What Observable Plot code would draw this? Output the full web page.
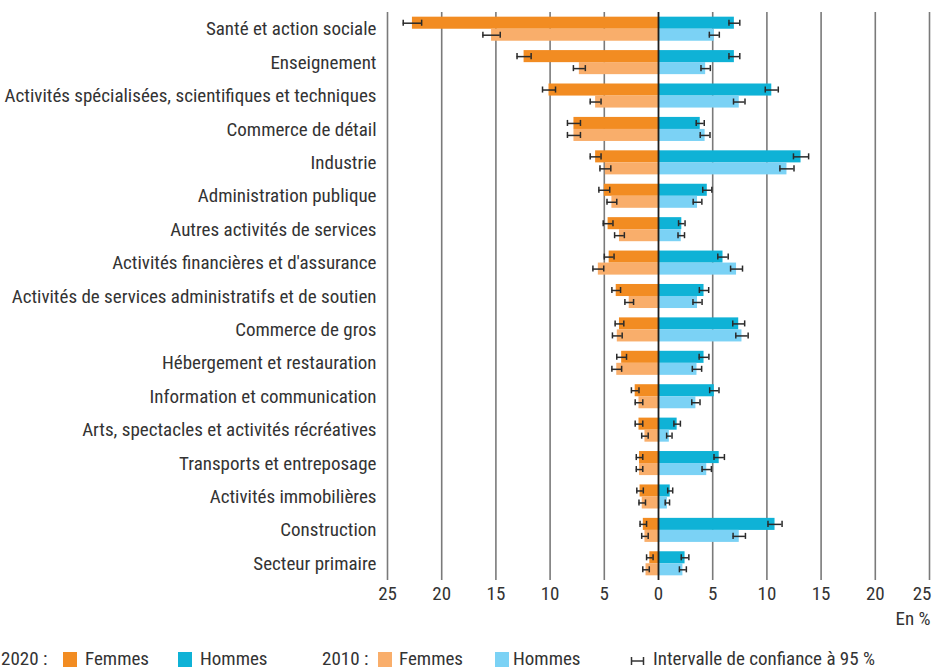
<!DOCTYPE html>
<html><head><meta charset="utf-8">
<script src="https://cdn.jsdelivr.net/npm/d3@7"></script>
<script src="https://cdn.jsdelivr.net/npm/@observablehq/plot@0.6"></script>
<style>
body{margin:0;background:#fff;font-family:"Liberation Sans Narrow","Roboto Condensed","Liberation Sans",sans-serif;color:#333;}
#chart{position:absolute;left:0;top:0;}
#legend{position:absolute;left:0;top:647px;width:932px;height:24px;font-size:19px;}
#legend span{position:absolute;top:0;line-height:24px;white-space:nowrap;}
#legend .sw{width:14px;height:15px;top:5px;}
</style></head>
<body>
<div id="chart"></div>
<div id="legend">
  <span style="left:1px">2020 :</span>
  <span class="sw" style="left:63px;background:#f28c22"></span>
  <span style="left:85px">Femmes</span>
  <span class="sw" style="left:178px;background:#0fb2d6"></span>
  <span style="left:200px">Hommes</span>
  <span style="left:322px">2010 :</span>
  <span class="sw" style="left:378px;background:#f9ae6b"></span>
  <span style="left:399px">Femmes</span>
  <span class="sw" style="left:495px;background:#7bd2f5"></span>
  <span style="left:513px">Hommes</span>
  <span style="left:630px;top:3px"><svg width="16" height="14"><line x1="1" y1="7" x2="14" y2="7" stroke="#333" stroke-width="1.5"/><line x1="1.5" y1="3" x2="1.5" y2="11" stroke="#333" stroke-width="1.5"/><line x1="13.5" y1="3" x2="13.5" y2="11" stroke="#333" stroke-width="1.5"/></svg></span>
  <span style="left:653px">Intervalle de confiance à 95 %</span>
</div>
<script>
const categories = [
  "Santé et action sociale",
  "Enseignement",
  "Activités spécialisées, scientifiques et techniques",
  "Commerce de détail",
  "Industrie",
  "Administration publique",
  "Autres activités de services",
  "Activités financières et d'assurance",
  "Activités de services administratifs et de soutien",
  "Commerce de gros",
  "Hébergement et restauration",
  "Information et communication",
  "Arts, spectacles et activités récréatives",
  "Transports et entreposage",
  "Activités immobilières",
  "Construction",
  "Secteur primaire"
];
// Shares in % (Femmes drawn to the left)
const femmes2020 = [22.7, 12.4, 10.1, 7.8, 5.8, 5.0, 4.65, 4.55, 3.9, 3.6, 3.4, 2.15, 1.8, 1.75, 1.7, 1.4, 0.8];
const femmes2010 = [15.4, 7.3, 5.8, 7.8, 4.9, 4.3, 3.6, 5.55, 2.7, 3.8, 3.85, 1.8, 1.25, 1.75, 1.5, 1.25, 1.15];
const hommes2020 = [7.0, 7.0, 10.45, 3.85, 13.15, 4.5, 2.15, 5.95, 4.2, 7.4, 4.2, 5.15, 1.72, 5.6, 1.08, 10.75, 2.45];
const hommes2010 = [5.15, 4.35, 7.45, 4.3, 11.85, 3.6, 2.1, 7.2, 3.6, 7.7, 3.55, 3.45, 1.0, 4.45, 0.82, 7.45, 2.25];
// Half-width of 95% confidence intervals
const femmes2020CI = [0.85, 0.65, 0.6, 0.6, 0.5, 0.5, 0.45, 0.45, 0.4, 0.4, 0.45, 0.35, 0.35, 0.3, 0.3, 0.3, 0.3];
const femmes2010CI = [0.8, 0.55, 0.5, 0.6, 0.5, 0.45, 0.45, 0.5, 0.4, 0.45, 0.45, 0.35, 0.3, 0.3, 0.3, 0.3, 0.3];
const hommes2020CI = [0.5, 0.5, 0.6, 0.37, 0.7, 0.42, 0.3, 0.48, 0.43, 0.55, 0.45, 0.43, 0.3, 0.48, 0.23, 0.65, 0.35];
const hommes2010CI = [0.46, 0.43, 0.53, 0.45, 0.65, 0.4, 0.3, 0.55, 0.42, 0.57, 0.43, 0.38, 0.25, 0.43, 0.2, 0.57, 0.32];
const xTicks = [-25, -20, -15, -10, -5, 0, 5, 10, 15, 20, 25];

const colors = {F2020: "#f28c22", F2010: "#f9ae6b", H2020: "#0fb2d6", H2010: "#7bd2f5"};
const FONT = '"Liberation Sans Narrow","Roboto Condensed","Liberation Sans",sans-serif';

function series(vals, ci, sign, key, year) {
  return categories.map((c, i) => ({cat: c, v: sign * vals[i], lo: sign * vals[i] - ci[i], hi: sign * vals[i] + ci[i], key, year}));
}
const rows = [
  ...series(femmes2020, femmes2020CI, -1, "F2020", 2020),
  ...series(femmes2010, femmes2010CI, -1, "F2010", 2010),
  ...series(hommes2020, hommes2020CI, 1, "H2020", 2020),
  ...series(hommes2010, hommes2010CI, 1, "H2010", 2010)
];
const r2020 = rows.filter(d => d.year === 2020);
const r2010 = rows.filter(d => d.year === 2010);
const half = 12;

const errMarks = (data, dy, insetTop, insetBottom) => [
  Plot.ruleY(data, {y: "cat", x1: "lo", x2: "hi", dy, stroke: "#2a2a2a", strokeWidth: 1.5}),
  Plot.tickX(data, {x: "lo", y: "cat", insetTop, insetBottom, stroke: "#2a2a2a", strokeWidth: 1.5}),
  Plot.tickX(data, {x: "hi", y: "cat", insetTop, insetBottom, stroke: "#2a2a2a", strokeWidth: 1.5})
];

const chart = Plot.plot({
  width: 932,
  height: 640,
  marginTop: 12,
  marginBottom: 60,
  marginLeft: 387,
  marginRight: 3,
  style: {fontFamily: FONT, fontSize: "19px", color: "#333", background: "#fff"},
  x: {domain: [-25, 25], label: null},
  y: {domain: categories, paddingInner: 0.28, paddingOuter: 0.14, round: false, label: null},
  marks: [
    Plot.ruleX(xTicks.filter(d => d !== 0), {stroke: "#7a7a7a", strokeWidth: 1.6}),
    Plot.barX(r2020, {y: "cat", x1: 0, x2: "v", fill: d => colors[d.key], insetBottom: half}),
    Plot.barX(r2010, {y: "cat", x1: 0, x2: "v", fill: d => colors[d.key], insetTop: half}),
    Plot.ruleX([0], {stroke: "#1e1e1e", strokeWidth: 1.8}),
    ...errMarks(r2020, -6, 3, 15),
    ...errMarks(r2010, 6, 15, 3),
    Plot.axisY({tickSize: 0, tickPadding: 11, fontSize: 19, fill: "#333", label: null}),
    Plot.axisX(xTicks.filter(d => d !== 25), {tickSize: 0, tickPadding: 6, tickFormat: d => Math.abs(d), fontSize: 19, fill: "#333", label: null}),
    Plot.axisX([25], {tickSize: 0, tickPadding: 6, tickFormat: d => Math.abs(d), textAnchor: "end", dx: 2, fontSize: 19, fill: "#333", label: null}),
    Plot.text(["En %"], {frameAnchor: "bottom-right", dy: 44, dx: 1, fontSize: 19, fill: "#333"})
  ]
});
document.getElementById("chart").appendChild(chart);
</script>
</body></html>
